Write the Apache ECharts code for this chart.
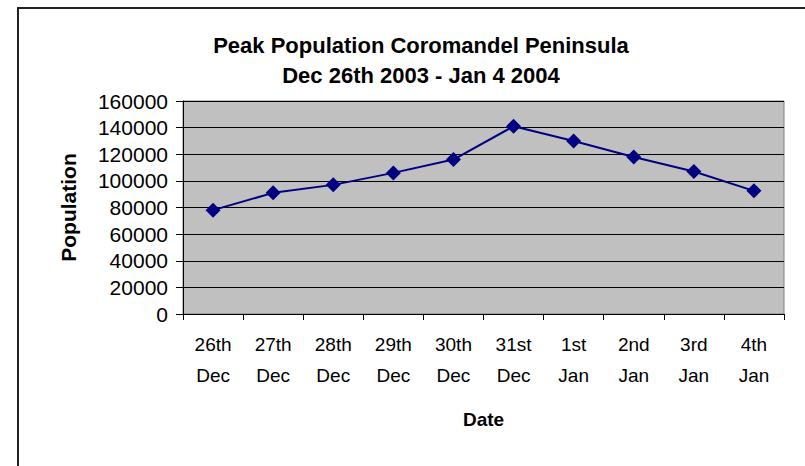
<!DOCTYPE html>
<html>
<head>
<meta charset="utf-8">
<script src="https://cdn.jsdelivr.net/npm/echarts@6/dist/echarts.min.js"></script>
<style>
  html, body { margin: 0; padding: 0; background: #fff; }
  #chart { width: 805px; height: 466px; }
</style>
</head>
<body>
<div id="chart"></div>
<script>
var titleLines = ['Peak Population Coromandel Peninsula', 'Dec 26th 2003 - Jan 4 2004'];
var dates = ['26th\nDec', '27th\nDec', '28th\nDec', '29th\nDec', '30th\nDec',
  '31st\nDec', '1st\nJan', '2nd\nJan', '3rd\nJan', '4th\nJan'];
var population = [78000, 91000, 97000, 106000, 116000, 141000, 130000, 118000, 107000, 92500];

(function() {
  var font = '"Liberation Sans", Arial, sans-serif';
  var navy = '#000080';
  var chart = echarts.init(document.getElementById('chart'), null, { renderer: 'svg' });
  chart.setOption({
    animation: false,
    backgroundColor: '#fff',
    textStyle: { fontFamily: font },
    title: {
      text: titleLines.join('\n'),
      left: 416,
      textAlign: 'center',
      top: 25,
      textStyle: { fontFamily: font, fontSize: 22, fontWeight: 'bold', color: '#000', lineHeight: 30 }
    },
    graphic: [{
      type: 'rect',
      shape: { x: 18, y: 8, width: 900, height: 600 },
      style: { fill: 'none', stroke: '#222', lineWidth: 2 },
      silent: true
    }],
    grid: {
      left: 183, right: 21, top: 101, bottom: 152,
      show: true, backgroundColor: '#C0C0C0', borderColor: '#808080', borderWidth: 1
    },
    xAxis: {
      type: 'category',
      data: dates,
      boundaryGap: true,
      name: 'Date',
      nameLocation: 'middle',
      nameGap: 96,
      nameTextStyle: { fontFamily: font, fontSize: 19, fontWeight: 'bold', color: '#000' },
      axisLine: { lineStyle: { color: '#000', width: 1 } },
      axisTick: { show: true, length: 6, lineStyle: { color: '#000' } },
      axisLabel: { color: '#000', fontFamily: font, fontSize: 19, lineHeight: 31, margin: 15, interval: 0 },
      splitLine: { show: false }
    },
    yAxis: {
      type: 'value',
      min: 0, max: 160000, interval: 20000,
      name: 'Population',
      nameLocation: 'middle',
      nameRotate: 90,
      nameGap: 104,
      nameTextStyle: { fontFamily: font, fontSize: 21, fontWeight: 'bold', color: '#000' },
      axisLine: { show: true, lineStyle: { color: '#000', width: 1 } },
      axisTick: { show: true, length: 7, lineStyle: { color: '#000' } },
      axisLabel: {
        color: '#000', fontFamily: font, fontSize: 21, margin: 15,
        formatter: function(v) { return String(v); }
      },
      splitLine: { lineStyle: { color: '#000', width: 1 } }
    },
    series: [{
      type: 'line',
      data: population,
      symbol: 'diamond',
      symbolSize: 15,
      lineStyle: { color: navy, width: 2 },
      itemStyle: { color: navy }
    }]
  });
})();
</script>
</body>
</html>
